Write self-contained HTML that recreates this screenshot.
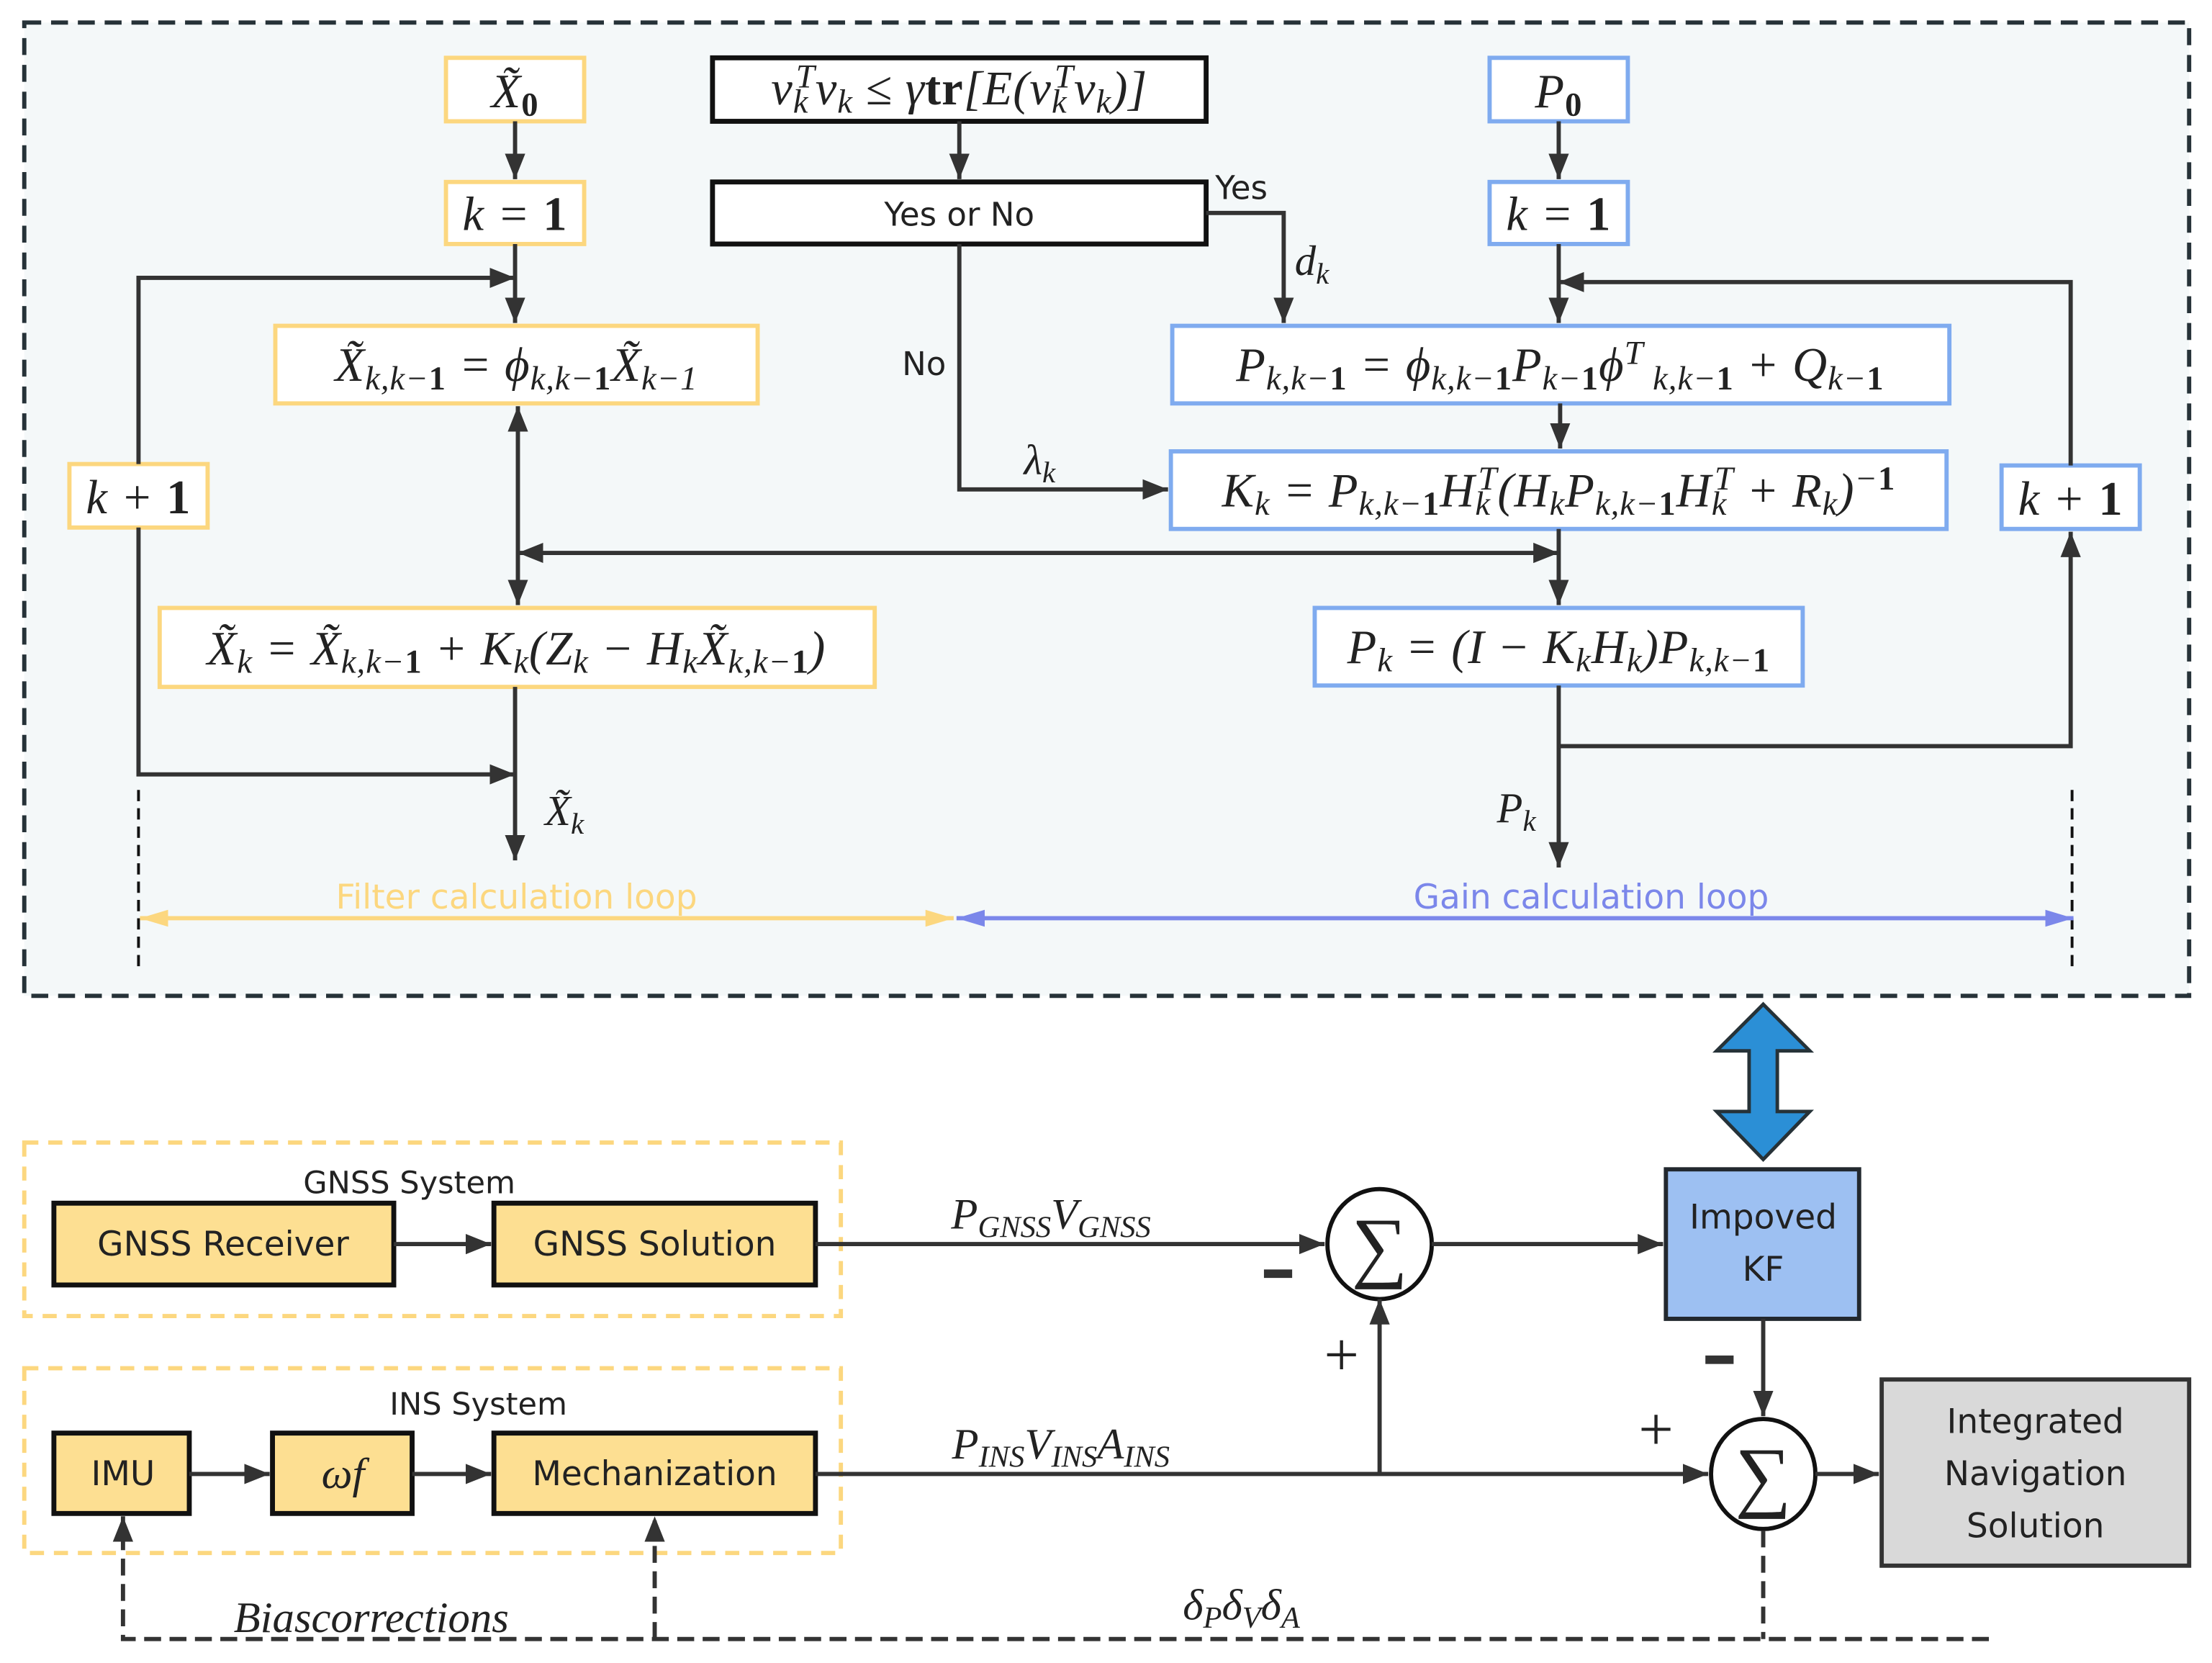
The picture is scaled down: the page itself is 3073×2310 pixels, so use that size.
<!DOCTYPE html>
<html><head><meta charset="utf-8"><style>
html,body{margin:0;padding:0;background:#fff;}
svg{display:block;}
.m{font-family:"Liberation Serif",serif;font-style:italic;fill:#222;}
.b{font-weight:bold;font-style:normal;}
.s{font-family:"DejaVu Sans","Liberation Sans",sans-serif;fill:#222;}
.sub{font-size:70%;}
</style></head><body>
<svg width="3073" height="2310" viewBox="0 0 1568 1179" xmlns="http://www.w3.org/2000/svg">
<defs>
<marker id="A" viewBox="0 0 10 10" refX="10" refY="5" markerWidth="18" markerHeight="18" markerUnits="userSpaceOnUse" orient="auto-start-reverse"><path d="M0,1L10,5L0,9z" fill="#333"/></marker>
<marker id="Y" viewBox="0 0 10 10" refX="10" refY="5" markerWidth="20" markerHeight="20" markerUnits="userSpaceOnUse" orient="auto-start-reverse"><path d="M0,2L10,5L0,8z" fill="#fcd77f"/></marker>
<marker id="B" viewBox="0 0 10 10" refX="10" refY="5" markerWidth="20" markerHeight="20" markerUnits="userSpaceOnUse" orient="auto-start-reverse"><path d="M0,2L10,5L0,8z" fill="#7b87ea"/></marker>
</defs>
<rect width="1568" height="1179" fill="#fff"/>
<rect x="17" y="16" width="1535" height="690" fill="#f4f8f9" stroke="#263238" stroke-width="3" stroke-dasharray="12,7"/>

<g fill="#fff" stroke="#fcd77f" stroke-width="3">
<rect x="316" y="41" width="98" height="45"/><rect x="316" y="129" width="98" height="44"/>
<rect x="195" y="231" width="342" height="55"/><rect x="113" y="431" width="507" height="56"/>
<rect x="49" y="329" width="98" height="45"/>
</g>
<g fill="#fff" stroke="#7fabef" stroke-width="3">
<rect x="1056" y="41" width="98" height="45"/><rect x="1056" y="129" width="98" height="44"/>
<rect x="831" y="231" width="551" height="55"/><rect x="830" y="320" width="550" height="55"/>
<rect x="932" y="431" width="346" height="55"/><rect x="1419" y="330" width="98" height="45"/>
</g>
<g fill="#fff" stroke="#111" stroke-width="3.5">
<rect x="505" y="41" width="350" height="45"/><rect x="505" y="129" width="350" height="44"/>
</g>

<g stroke="#333" stroke-width="3" fill="none">
<path d="M365 86V127" marker-end="url(#A)"/>
<path d="M680 86V127" marker-end="url(#A)"/>
<path d="M1105 86V127" marker-end="url(#A)"/>
<path d="M365 173V229" marker-end="url(#A)"/>
<path d="M98 329V197H365" marker-end="url(#A)"/>
<path d="M367 288V429" marker-start="url(#A)" marker-end="url(#A)"/>
<path d="M367 392H1105" marker-start="url(#A)" marker-end="url(#A)"/>
<path d="M365 487V610" marker-end="url(#A)"/>
<path d="M98 374V549H365" marker-end="url(#A)"/>
<path d="M680 173V347H828" marker-end="url(#A)"/>
<path d="M855 151H910V229" marker-end="url(#A)"/>
<path d="M1105 173V229" marker-end="url(#A)"/>
<path d="M1468 330V200H1105" marker-end="url(#A)"/>
<path d="M1106 286V318" marker-end="url(#A)"/>
<path d="M1105 375V429" marker-end="url(#A)"/>
<path d="M1105 486V615" marker-end="url(#A)"/>
<path d="M1105 529H1468V377" marker-end="url(#A)"/>
</g>
<g stroke="#111" stroke-width="2" stroke-dasharray="8,5">
<path d="M98 560V686"/><path d="M1469 560V686"/>
</g>
<path d="M99 651H676" stroke="#fcd77f" stroke-width="3" marker-start="url(#Y)" marker-end="url(#Y)"/>
<path d="M678 651H1470" stroke="#7b87ea" stroke-width="3" marker-start="url(#B)" marker-end="url(#B)"/>
<text x="366" y="644" font-size="24" fill="#fcd77f" text-anchor="middle" font-family="DejaVu Sans,sans-serif">Filter calculation loop</text>
<text x="1128" y="644" font-size="24" fill="#7b87ea" text-anchor="middle" font-family="DejaVu Sans,sans-serif">Gain calculation loop</text>

<g class="m" font-size="34" text-anchor="middle" letter-spacing="0.5">
<text x="365" y="76">X̃<tspan class="b sub" dy="6">0</tspan></text>
<text x="365" y="163">k = <tspan class="b">1</tspan></text>
<text x="1105" y="76">P<tspan class="b sub" dy="6">0</tspan></text>
<text x="1105" y="163">k = <tspan class="b">1</tspan></text>
<text x="98" y="364">k + <tspan class="b">1</tspan></text>
<text x="1468" y="365">k + <tspan class="b">1</tspan></text>
<text x="366" y="270">X̃<tspan class="sub" dy="6">k,k−<tspan class="b">1</tspan></tspan><tspan dy="-6"> = ϕ</tspan><tspan class="sub" dy="6">k,k−<tspan class="b">1</tspan></tspan><tspan dy="-6">X̃</tspan><tspan class="sub" dy="6">k−1</tspan></text>
<text x="366" y="471">X̃<tspan class="sub" dy="6">k</tspan><tspan dy="-6"> = X̃</tspan><tspan class="sub" dy="6">k,k−<tspan class="b">1</tspan></tspan><tspan dy="-6"> + K</tspan><tspan class="sub" dy="6">k</tspan><tspan dy="-6">(Z</tspan><tspan class="sub" dy="6">k</tspan><tspan dy="-6"> − H</tspan><tspan class="sub" dy="6">k</tspan><tspan dy="-6">X̃</tspan><tspan class="sub" dy="6">k,k−<tspan class="b">1</tspan></tspan><tspan dy="-6">)</tspan></text>
<text x="680" y="74">v<tspan class="sub" dy="6">k</tspan><tspan class="sub" dx="-9" dy="-18">T</tspan><tspan dy="12">v</tspan><tspan class="sub" dy="6">k</tspan><tspan dy="-6"> ≤ γ</tspan><tspan class="b">tr</tspan><tspan>[E(v</tspan><tspan class="sub" dy="6">k</tspan><tspan class="sub" dx="-9" dy="-18">T</tspan><tspan dy="12">v</tspan><tspan class="sub" dy="6">k</tspan><tspan dy="-6">)]</tspan></text>
<text x="1106" y="270">P<tspan class="sub" dy="6">k,k−<tspan class="b">1</tspan></tspan><tspan dy="-6"> = ϕ</tspan><tspan class="sub" dy="6">k,k−<tspan class="b">1</tspan></tspan><tspan dy="-6">P</tspan><tspan class="sub" dy="6">k−<tspan class="b">1</tspan></tspan><tspan dy="-6">ϕ</tspan><tspan class="sub" dy="-12">T</tspan><tspan class="sub" dy="18"> k,k−<tspan class="b">1</tspan></tspan><tspan dy="-6"> + Q</tspan><tspan class="sub" dy="6">k−<tspan class="b">1</tspan></tspan></text>
<text x="1105" y="359">K<tspan class="sub" dy="6">k</tspan><tspan dy="-6"> = P</tspan><tspan class="sub" dy="6">k,k−<tspan class="b">1</tspan></tspan><tspan dy="-6">H</tspan><tspan class="sub" dy="6">k</tspan><tspan class="sub" dx="-9" dy="-18">T</tspan><tspan dy="12">(H</tspan><tspan class="sub" dy="6">k</tspan><tspan dy="-6">P</tspan><tspan class="sub" dy="6">k,k−<tspan class="b">1</tspan></tspan><tspan dy="-6">H</tspan><tspan class="sub" dy="6">k</tspan><tspan class="sub" dx="-9" dy="-18">T</tspan><tspan dy="12"> + R</tspan><tspan class="sub" dy="6">k</tspan><tspan dy="-6">)</tspan><tspan class="sub" dy="-12">−<tspan class="b">1</tspan></tspan></text>
<text x="1105" y="470">P<tspan class="sub" dy="6">k</tspan><tspan dy="-6"> = (I − K</tspan><tspan class="sub" dy="6">k</tspan><tspan dy="-6">H</tspan><tspan class="sub" dy="6">k</tspan><tspan dy="-6">)P</tspan><tspan class="sub" dy="6">k,k−<tspan class="b">1</tspan></tspan></text>
</g>
<g class="m" font-size="30" text-anchor="middle">
<text x="400" y="585">X̃<tspan class="sub" dy="6">k</tspan></text>
<text x="1075" y="583">P<tspan class="sub" dy="6">k</tspan></text>
<text x="737" y="336">λ<tspan class="sub" dy="6">k</tspan></text>
<text x="930" y="195">d<tspan class="sub" dy="6">k</tspan></text>
</g>
<g class="s" font-size="23">
<text x="680" y="160" text-anchor="middle">Yes or No</text>
<text x="880" y="141" text-anchor="middle">Yes</text>
<text x="655" y="266" text-anchor="middle">No</text>
</g>

<!-- bottom -->
<path d="M1250 712L1283 745H1260V788H1283L1250 822L1217 788H1240V745H1217Z" fill="#2b8fd6" stroke="#263238" stroke-width="2.5"/>
<g fill="none" stroke="#fcd77f" stroke-width="3" stroke-dasharray="10,7">
<rect x="17" y="810" width="579" height="123"/><rect x="17" y="970" width="579" height="131"/>
</g>
<g fill="#fddf92" stroke="#111" stroke-width="3.5">
<rect x="38" y="853" width="241" height="58"/><rect x="350" y="853" width="228" height="58"/>
<rect x="38" y="1016" width="96" height="57"/><rect x="193" y="1016" width="99" height="57"/><rect x="350" y="1016" width="228" height="57"/>
</g>
<rect x="1181" y="829" width="137" height="106" fill="#9dc0f2" stroke="#22282e" stroke-width="3"/>
<rect x="1334" y="978" width="218" height="132" fill="#d9d9d9" stroke="#333" stroke-width="3"/>
<g fill="#fff" stroke="#111" stroke-width="3">
<ellipse cx="978" cy="882" rx="37" ry="39"/><ellipse cx="1250" cy="1045" rx="37" ry="39"/>
</g>
<g stroke="#333" stroke-width="3" fill="none">
<path d="M279 882H348" marker-end="url(#A)"/>
<path d="M134 1045H191" marker-end="url(#A)"/>
<path d="M292 1045H348" marker-end="url(#A)"/>
<path d="M578 882H939" marker-end="url(#A)"/>
<path d="M1015 882H1179" marker-end="url(#A)"/>
<path d="M578 1045H1211" marker-end="url(#A)"/>
<path d="M978 1045V921" marker-end="url(#A)"/>
<path d="M1250 935V1004" marker-end="url(#A)"/>
<path d="M1287 1045H1332" marker-end="url(#A)"/>
</g>
<g stroke="#333" stroke-width="3" fill="none" stroke-dasharray="12,6">
<path d="M1410 1162H87V1075" marker-end="url(#A)"/>
<path d="M464 1162V1075" marker-end="url(#A)"/>
<path d="M1250 1085V1162"/>
</g>
<g class="s" font-size="24" text-anchor="middle">
<text x="158" y="890">GNSS Receiver</text>
<text x="464" y="890">GNSS Solution</text>
<text x="87" y="1053">IMU</text>
<text x="464" y="1053">Mechanization</text>
<text x="1250" y="871">Impoved</text>
<text x="1250" y="908">KF</text>
<text x="1443" y="1016">Integrated</text>
<text x="1443" y="1053">Navigation</text>
<text x="1443" y="1090">Solution</text>
</g>
<g class="s" font-size="22" text-anchor="middle">
<text x="290" y="846">GNSS System</text>
<text x="339" y="1003">INS System</text>
</g>
<g class="m" font-size="31" text-anchor="middle">
<text x="243" y="1055">ωf</text>
<text x="745" y="871">P<tspan class="sub" dy="6">GNSS</tspan><tspan dy="-6">V</tspan><tspan class="sub" dy="6">GNSS</tspan></text>
<text x="752" y="1034">P<tspan class="sub" dy="6">INS</tspan><tspan dy="-6">V</tspan><tspan class="sub" dy="6">INS</tspan><tspan dy="-6">A</tspan><tspan class="sub" dy="6">INS</tspan></text>
<text x="263" y="1157">Biascorrections</text>
<text x="880" y="1148">δ<tspan class="sub" dy="6">P</tspan><tspan dy="-6">δ</tspan><tspan class="sub" dy="6">V</tspan><tspan dy="-6">δ</tspan><tspan class="sub" dy="6">A</tspan></text>
</g>
<g font-family="Liberation Serif,serif" fill="#222" text-anchor="middle">
<text x="978" y="902" font-size="56">∑</text>
<text x="1250" y="1065" font-size="56">∑</text>
<text x="951" y="975" font-size="44">+</text>
<text x="1174" y="1028" font-size="44">+</text>
</g>
<rect x="896" y="900" width="20" height="6" fill="#333"/>
<rect x="1209" y="961" width="20" height="6" fill="#333"/>
</svg>
</body></html>
